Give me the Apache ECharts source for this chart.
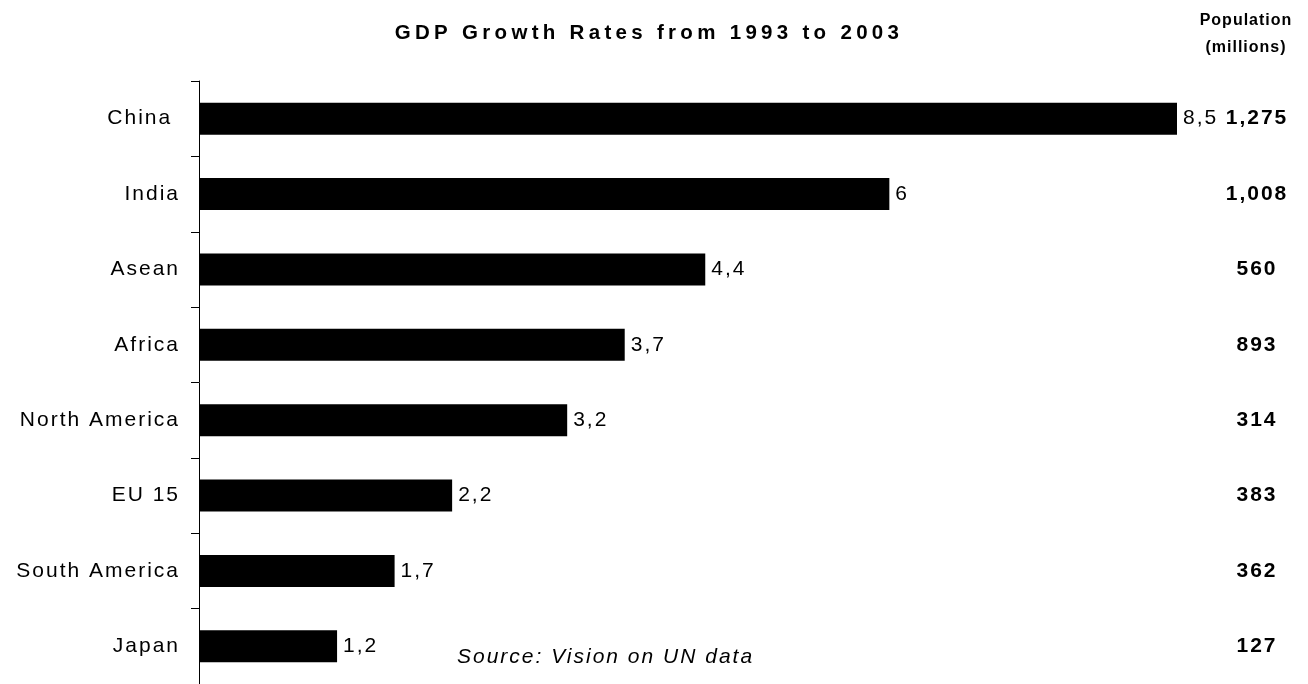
<!DOCTYPE html>
<html>
<head>
<meta charset="utf-8">
<script src="https://cdn.jsdelivr.net/npm/echarts@6/dist/echarts.min.js"></script>
<style>
  html, body { margin: 0; padding: 0; background: #ffffff; }
  #chart { width: 1308px; height: 684px; }
</style>
</head>
<body>
<div id="chart"></div>
<script>
// ---- data ----
const categories = ['China ', 'India', 'Asean', 'Africa', 'North America', 'EU 15', 'South America', 'Japan'];
const growthRates = [8.5, 6, 4.4, 3.7, 3.2, 2.2, 1.7, 1.2];
const population = ['1,275', '1,008', '560', '893', '314', '383', '362', '127'];
const titleText = 'GDP Growth Rates from 1993 to 2003';
const populationHeader = 'Population\n(millions)';
const sourceText = 'Source: Vision on UN data';

// Letter spacing, as in the original (spread-out glyphs)
(function () {
  const p = CanvasRenderingContext2D.prototype;
  const orig = p.fillText;
  p.fillText = function (text, x, y, maxW) {
    const f = this.font || '';
    const m = /(\d+(?:\.\d+)?)px/.exec(f);
    const size = m ? parseFloat(m[1]) : 12;
    const bold = /bold|700/.test(f);
    let ls = 0;
    if (size === 20.5 && bold) ls = 4.3;
    else if (size === 16 && bold) ls = 1;
    else if (size >= 18) ls = 2;
    if ('letterSpacing' in this) this.letterSpacing = ls + 'px';
    return maxW === undefined ? orig.call(this, text, x, y) : orig.call(this, text, x, y, maxW);
  };
})();

const FONT = '"Liberation Sans", Arial, Helvetica, sans-serif';
const chart = echarts.init(document.getElementById('chart'), null, { renderer: 'canvas' });

chart.setOption({
  backgroundColor: '#ffffff',
  animation: false,
  title: [
    {
      text: titleText,
      left: 649, top: 23, padding: 0, textAlign: 'center',
      textStyle: { fontFamily: FONT, fontSize: 20.5, fontWeight: 'bold', color: '#000' }
    },
    {
      text: populationHeader,
      left: 1246, top: 7, padding: 0, textAlign: 'center',
      textStyle: { fontFamily: FONT, fontSize: 16, fontWeight: 'bold', color: '#000', lineHeight: 27 }
    },
    {
      text: sourceText,
      left: 457, top: 647, padding: 0,
      textStyle: { fontFamily: FONT, fontSize: 21, fontStyle: 'italic', fontWeight: 'normal', color: '#000' }
    }
  ],
  grid: { left: 199, right: 131, top: 81, height: 610, containLabel: false },
  xAxis: {
    type: 'value', min: 0, max: 8.5,
    show: false
  },
  yAxis: [
    {
      type: 'category', inverse: true, data: categories,
      axisLine: { show: true, lineStyle: { color: '#000', width: 1 } },
      axisTick: { show: true, length: 8, lineStyle: { color: '#000', width: 1 } },
      axisLabel: { fontFamily: FONT, fontSize: 21, color: '#000', margin: 19 },
      splitLine: { show: false }
    },
    {
      type: 'category', inverse: true, data: population, position: 'right',
      axisLine: { show: false }, axisTick: { show: false },
      axisLabel: { fontFamily: FONT, fontSize: 21, fontWeight: 'bold', color: '#000', margin: 80, align: 'center' },
      splitLine: { show: false }
    }
  ],
  series: [{
    type: 'bar',
    data: growthRates,
    barWidth: 32,
    itemStyle: { color: '#000' },
    label: {
      show: true, position: 'right', distance: 6,
      fontFamily: FONT, fontSize: 21, color: '#000',
      formatter: (p) => String(p.value).replace('.', ',')
    }
  }]
});
</script>
</body>
</html>
